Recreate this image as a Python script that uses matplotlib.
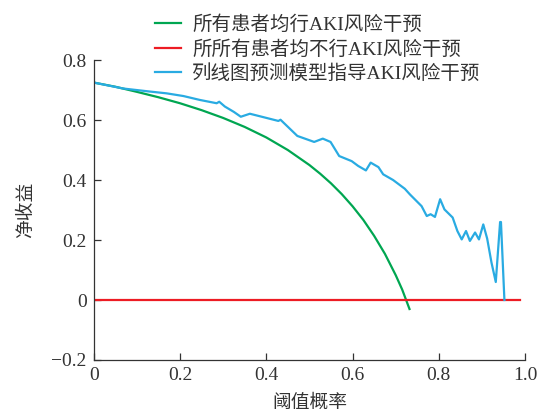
import matplotlib
matplotlib.use("Agg")
import matplotlib.pyplot as plt

plt.rcParams['font.family'] = ['Liberation Serif', 'Noto Sans CJK SC', 'DejaVu Sans']
plt.rcParams['axes.unicode_minus'] = True

# Decision curves: threshold probability vs net benefit
treat_all_x = [0, 0.05, 0.10, 0.15, 0.20, 0.25, 0.30, 0.35, 0.40, 0.45, 0.50,
               0.525, 0.55, 0.575, 0.60, 0.625, 0.65, 0.675, 0.70, 0.715, 0.732]
treat_all_y = [0.725, 0.711, 0.694, 0.676, 0.656, 0.633, 0.607, 0.577, 0.542, 0.500, 0.450,
               0.421, 0.389, 0.353, 0.3125, 0.267, 0.214, 0.154, 0.083, 0.035, -0.03]

treat_none_x = [0, 0.988]
treat_none_y = [0, 0]

model_x = [0, 0.069, 0.130, 0.169, 0.208, 0.246, 0.285, 0.291, 0.304, 0.325,
           0.341, 0.362, 0.428, 0.433, 0.472, 0.511, 0.531, 0.549, 0.569, 0.598,
           0.613, 0.631, 0.642, 0.660, 0.671, 0.694, 0.721, 0.733, 0.760, 0.772,
           0.781, 0.791, 0.803, 0.813, 0.832, 0.843, 0.853, 0.863, 0.872, 0.884,
           0.893, 0.903, 0.912, 0.922, 0.932, 0.942, 0.944, 0.952]
model_y = [0.725, 0.705, 0.695, 0.689, 0.680, 0.667, 0.656, 0.661, 0.645, 0.627,
           0.611, 0.621, 0.597, 0.601, 0.547, 0.527, 0.538, 0.527, 0.480, 0.463,
           0.447, 0.432, 0.458, 0.443, 0.419, 0.400, 0.371, 0.352, 0.313, 0.280,
           0.286, 0.277, 0.336, 0.302, 0.275, 0.230, 0.202, 0.230, 0.197, 0.225,
           0.202, 0.252, 0.205, 0.125, 0.060, 0.260, 0.260, 0.0]

labels = ['所有患者均行AKI风险干预', '所所有患者均不行AKI风险干预', '列线图预测模型指导AKI风险干预']
colors = ['#00a651', '#ed1c24', '#29abe2']

fig = plt.figure(figsize=(5.47, 4.17), dpi=100)
ax = fig.add_axes([0.1713, 0.1367, 0.7887, 0.7193])

l1, = ax.plot(treat_all_x, treat_all_y, color=colors[0], lw=1.6)
l2, = ax.plot(treat_none_x, treat_none_y, color=colors[1], lw=1.6)
l3, = ax.plot(model_x, model_y, color=colors[2], lw=1.6)

ax.set_xlim(0, 1.0)
ax.set_ylim(-0.2, 0.8)
ax.set_xticks([0, 0.2, 0.4, 0.6, 0.8, 1.0])
ax.set_xticklabels(['0', '0.2', '0.4', '0.6', '0.8', '1.0'])
ax.set_yticks([-0.2, 0, 0.2, 0.4, 0.6, 0.8])
ax.set_yticklabels(['\u22120.2', '0', '0.2', '0.4', '0.6', '0.8'])
ax.tick_params(direction='in', length=5, width=0.9, labelsize=14, colors='#333333', pad=5)

for side in ['top', 'right']:
    ax.spines[side].set_visible(False)
for side in ['left', 'bottom']:
    ax.spines[side].set_linewidth(0.9)
    ax.spines[side].set_color('#333333')

ax.set_xlabel('阈值概率', fontsize=13.5, color='#333333', labelpad=8)
ax.set_ylabel('净收益', fontsize=13.5, color='#333333', labelpad=12)

fig.legend([l1, l2, l3], labels, loc='upper left', bbox_to_anchor=(0.252, 1.005),
           frameon=False, fontsize=14, handlelength=1.3, handletextpad=0.6,
           labelspacing=0.3, labelcolor='#333333')

fig.savefig('out.png', dpi=100)
